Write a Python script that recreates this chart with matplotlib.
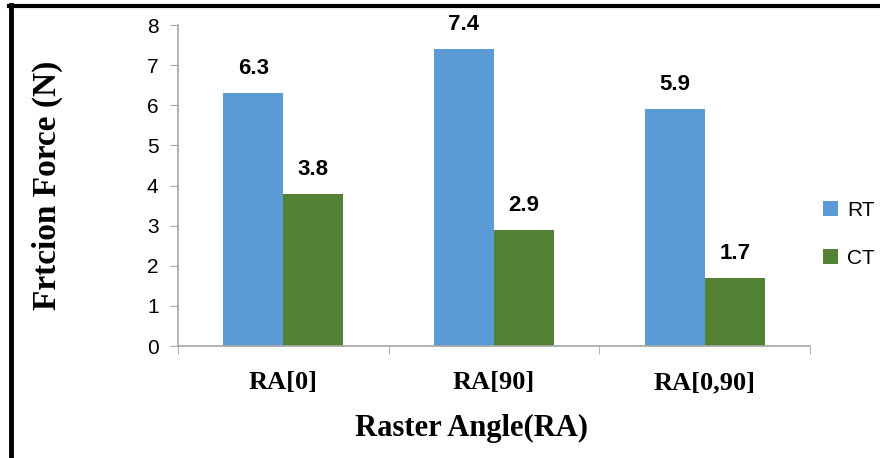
import matplotlib
matplotlib.use("Agg")
import matplotlib.pyplot as plt
import numpy as np
from matplotlib.lines import Line2D

categories = ["RA[0]", "RA[90]", "RA[0,90]"]
rt_values = [6.3, 7.4, 5.9]
ct_values = [3.8, 2.9, 1.7]
series_names = ["RT", "CT"]
y_ticks = [0, 1, 2, 3, 4, 5, 6, 7, 8]

blue = "#5B9BD5"
green = "#548235"
axis_gray = "#A6A6A6"

fig = plt.figure(figsize=(8.8, 4.58), dpi=100)
ax = fig.add_axes([0.2023, 0.2445, 0.7182, 0.7009])

x = np.arange(len(categories))
w = 0.285
b1 = ax.bar(x - w / 2, rt_values, width=w, color=blue, label=series_names[0])
b2 = ax.bar(x + w / 2, ct_values, width=w, color=green, label=series_names[1])

for bars, vals in ((b1, rt_values), (b2, ct_values)):
    for rect, v in zip(bars, vals):
        ax.annotate(f"{v}", (rect.get_x() + rect.get_width() / 2, v),
                    xytext=(0, 10), textcoords="offset points",
                    ha="center", va="bottom", fontsize=16, fontweight="bold",
                    family="Liberation Sans")

ax.set_xlim(-0.5, 2.5)
ax.set_ylim(0, 8)
ax.set_yticks(y_ticks)
ax.set_yticklabels([str(t) for t in y_ticks], fontsize=15, family="Liberation Sans")

ax.set_xticks(x)
ax.set_xticklabels(categories, fontsize=19, fontweight="bold", family="Liberation Serif")
ax.tick_params(axis="x", length=0, pad=18)
ax.set_xticks([-0.5, 0.5, 1.5, 2.5], minor=True)
ax.tick_params(axis="x", which="minor", length=6, color=axis_gray, direction="out")
ax.tick_params(axis="y", length=6, color=axis_gray, direction="out", pad=8)

for s in ("top", "right"):
    ax.spines[s].set_visible(False)
for s in ("left", "bottom"):
    ax.spines[s].set_color(axis_gray)
    ax.spines[s].set_linewidth(1.2)

ax.set_ylabel("Frtcion Force (N)", fontsize=24, fontweight="bold",
              family="Liberation Serif", labelpad=60)
ax.set_xlabel("Raster Angle(RA)", fontsize=22, fontweight="bold",
              family="Liberation Serif")
ax.xaxis.set_label_coords(0.4636, -0.212)

leg = fig.legend(handles=[b1, b2], labels=series_names, loc="center left",
                 bbox_to_anchor=(0.923, 0.488), bbox_transform=fig.transFigure,
                 frameon=False, borderpad=0,
                 prop={"family": "Liberation Sans", "size": 15},
                 handlelength=0.72, handleheight=0.72, labelspacing=1.38,
                 handletextpad=0.45)

fig.add_artist(Line2D([0.0125, 0.0125], [0, 0.988], transform=fig.transFigure,
                      color="black", linewidth=3.5))
fig.add_artist(Line2D([0.0105, 1.0], [0.986, 0.986], transform=fig.transFigure,
                      color="black", linewidth=3.0))

fig.savefig("out.png", dpi=100)
